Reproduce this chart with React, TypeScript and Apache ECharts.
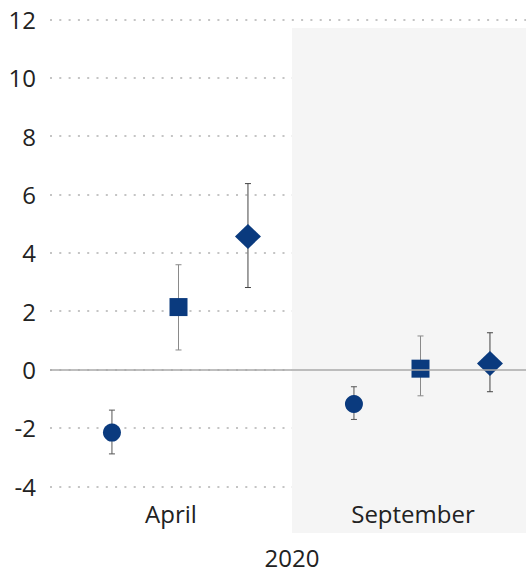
import React, { useEffect, useRef } from "react";
import * as echarts from "echarts";

const categories = ["April", "September"];
const axisName = "2020";

const circleValues = [-2.16, -1.18];
const circleLow = [-2.89, -1.71];
const circleHigh = [-1.39, -0.59];

const squareValues = [2.14, 0.03];
const squareLow = [0.67, -0.9];
const squareHigh = [3.59, 1.15];

const diamondValues = [4.56, 0.21];
const diamondLow = [2.81, -0.76];
const diamondHigh = [6.37, 1.26];

const yMin = -5.6;
const yMax = 12.66;

const NAVY = "#0a3a7e";
const TEXT = "#222222";
const FONT = "Open Sans";

function buildData(values: number[], low: number[], high: number[]) {
  return values.map((v, i) => [i, v, low[i], high[i]]);
}

function makeSeries(
  name: string,
  values: number[],
  low: number[],
  high: number[],
  offset: number,
  shape: "circle" | "square" | "diamond",
  barColor: string
) {
  return {
    name,
    type: "custom",
    xAxisIndex: 1,
    yAxisIndex: 1,
    encode: { x: 0, y: 1 },
    data: buildData(values, low, high),
    renderItem: (params: any, api: any) => {
      const cat = api.value(0);
      const v = api.value(1);
      const lo = api.value(2);
      const hi = api.value(3);
      const c = api.coord([cat, v]);
      const band = api.size([1, 0])[0];
      const x = c[0] + offset * band;
      const y = c[1];
      const yLo = api.coord([cat, lo])[1];
      const yHi = api.coord([cat, hi])[1];
      const cap = 3;
      const barStyle = { stroke: barColor, lineWidth: 1 };
      const children: any[] = [
        { type: "line", shape: { x1: x, y1: yHi, x2: x, y2: yLo }, style: barStyle },
        { type: "line", shape: { x1: x - cap, y1: yHi, x2: x + cap, y2: yHi }, style: barStyle },
        { type: "line", shape: { x1: x - cap, y1: yLo, x2: x + cap, y2: yLo }, style: barStyle },
      ];
      if (shape === "circle") {
        children.push({ type: "circle", shape: { cx: x, cy: y, r: 9 }, style: { fill: NAVY } });
      } else if (shape === "square") {
        children.push({ type: "rect", shape: { x: x - 9, y: y - 9, width: 18, height: 18 }, style: { fill: NAVY } });
      } else {
        children.push({
          type: "polygon",
          shape: { points: [[x, y - 12.5], [x + 13, y], [x, y + 12.5], [x - 13, y]] },
          style: { fill: NAVY },
        });
      }
      return { type: "group", children };
    },
  };
}

export default function App() {
  const ref = useRef<HTMLDivElement>(null);
  useEffect(() => {
    if (!ref.current) return;
    const chart = echarts.init(ref.current, undefined, { renderer: "svg" });
    chart.setOption({
      animation: false,
      textStyle: { fontFamily: FONT },
      grid: [
        { left: 50, width: 484, top: 28, bottom: 43, containLabel: false, outerBoundsMode: "none" },
        { left: 50, width: 484, top: 0, bottom: 43, containLabel: false, outerBoundsMode: "none" },
      ],
      xAxis: [
        {
          type: "category",
          gridIndex: 0,
          data: categories,
          boundaryGap: true,
          axisLine: { show: false },
          axisTick: { show: false },
          axisLabel: { show: false },
          splitLine: { show: false },
          splitArea: { show: true, areaStyle: { color: ["rgba(0,0,0,0)", "#f5f5f5"] } },
        },
        {
          type: "category",
          gridIndex: 1,
          data: categories,
          boundaryGap: true,
          axisLine: { show: false },
          axisTick: { show: false },
          axisLabel: {
            inside: true,
            margin: 8,
            fontSize: 24,
            color: TEXT,
            fontFamily: FONT,
          },
          name: axisName,
          nameLocation: "middle",
          nameGap: 12,
          nameTextStyle: { fontSize: 24, color: TEXT, fontFamily: FONT, verticalAlign: "top" },
          splitLine: { show: false },
        },
      ],
      yAxis: [
        {
          type: "value",
          gridIndex: 0,
          min: 0,
          max: 1,
          axisLine: { show: false },
          axisTick: { show: false },
          axisLabel: { show: false },
          splitLine: { show: false },
        },
        {
          type: "value",
          gridIndex: 1,
          min: yMin,
          max: yMax,
          splitNumber: 9,
          minInterval: 2,
          maxInterval: 2,
          axisLine: { show: false },
          axisTick: { show: false },
          axisLabel: {
            margin: 14,
            fontSize: 24,
            color: TEXT,
            fontFamily: FONT,
            showMinLabel: false,
            showMaxLabel: false,
            formatter: (v: number) => (Number.isInteger(v) ? String(v) : ""),
          },
          splitLine: {
            show: true,
            showMinLine: false,
            showMaxLine: false,
            lineStyle: { color: "#c4c4c4", width: 2, type: [2, 7.3] },
          },
        },
      ],
      series: [
        {
          ...makeSeries("circle", circleValues, circleLow, circleHigh, -0.244, "circle", "#555555"),
          markLine: {
            silent: true,
            symbol: "none",
            label: { show: false },
            lineStyle: { color: "#a8a8a8", width: 1.5, type: "solid" },
            data: [{ yAxis: 0 }],
          },
        },
        makeSeries("square", squareValues, squareLow, squareHigh, 0.031, "square", "#8a8a8a"),
        makeSeries("diamond", diamondValues, diamondLow, diamondHigh, 0.318, "diamond", "#444444"),
      ],
    });
    return () => chart.dispose();
  }, []);
  return (
    <div
      ref={ref}
      style={{ position: "fixed", left: 0, top: 0, width: 526, height: 576, background: "#ffffff" }}
    />
  );
}
